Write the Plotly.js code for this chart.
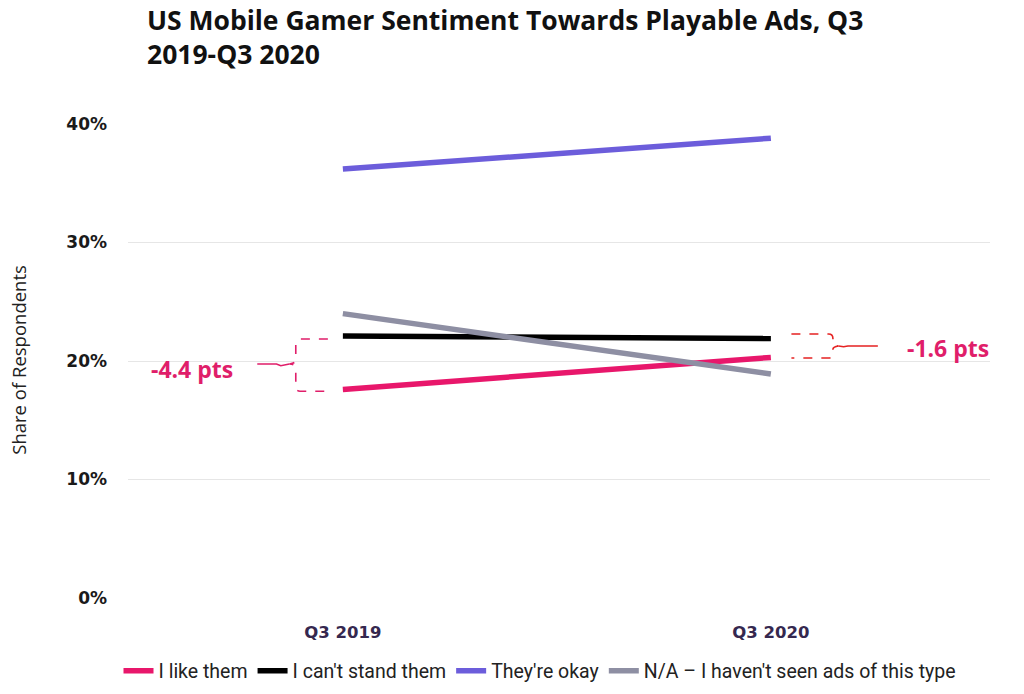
<!DOCTYPE html>
<html>
<head>
<meta charset="utf-8">
<script src="https://cdn.plot.ly/plotly-3.0.1.min.js"></script>
<style>html,body{margin:0;padding:0;background:#fff;}#chart{width:1024px;height:694px;}</style>
</head>
<body>
<div id="chart"></div>
<script>
// ---- data ----
const periods = ["Q3 2019", "Q3 2020"];
const likeThem = [17.6, 20.3];
const cantStand = [22.1, 21.9];
const theyreOkay = [36.2, 38.8];
const notSeen = [24.0, 18.9];
const seriesNames = ["I like them", "I can't stand them", "They're okay", "N/A \u2013 I haven't seen ads of this type"];
const yTicks = [0, 10, 20, 30, 40];
const changeLabels = ["-4.4 pts", "-1.6 pts"];
const chartTitle = "US Mobile Gamer Sentiment Towards Playable Ads, Q3<br>2019-Q3 2020";
const yTitle = "Share of Respondents";

const colors = ["#e8176b", "#000000", "#6c5ddb", "#8e8fa3"];
const xIdx = periods.map((_, i) => i);
const allSeries = [likeThem, cantStand, theyreOkay, notSeen];

const traces = allSeries.map((vals, k) => ({
  x: xIdx, y: vals, name: seriesNames[k], type: 'scatter', mode: 'lines',
  line: {color: colors[k], width: 5.5}, hoverinfo: 'skip'
}));

const pink = "#e01e6a", red = "#e52222";
const shapes = [
  // left bracket (2019 gap)
  {type:'path', xref:'x', yref:'y',
   path:'M -0.035,21.86 L -0.100,21.86 Q -0.110,21.86 -0.110,21.4 L -0.110,20.1 Q -0.110,19.8 -0.125,19.75 Q -0.110,19.7 -0.110,19.4 L -0.110,17.9 Q -0.110,17.45 -0.100,17.45 L -0.035,17.45',
   line:{color:pink, width:1.6, dash:'dash'}},
  {type:'path', xref:'x', yref:'y',
   path:'M -0.200,19.75 L -0.155,19.75 L -0.145,19.6 L -0.125,19.75',
   line:{color:pink, width:1.6}},
  // right bracket (2020 gap)
  {type:'path', xref:'x', yref:'y',
   path:'M 1.048,22.28 L 1.135,22.28 Q 1.145,22.28 1.145,21.9 L 1.145,21.5 Q 1.145,21.3 1.158,21.27 Q 1.145,21.2 1.145,21.0 L 1.145,20.6 Q 1.145,20.25 1.135,20.25 L 1.048,20.25',
   line:{color:red, width:1.6, dash:'dash'}},
  {type:'path', xref:'x', yref:'y',
   path:'M 1.158,21.27 L 1.170,21.2 L 1.180,21.27 L 1.250,21.27',
   line:{color:red, width:1.6}}
];

const annotations = [
  {xref:'paper', yref:'paper', x:(145 - 128) / 862, y:1.262, xanchor:'left', yanchor:'top', align:'left',
   text:chartTitle, showarrow:false,
   font:{family:'Open Sans, sans-serif', size:26.5, color:'#111', weight:700}},
  {xref:'x', yref:'y', x:-0.352, y:19.35, text:changeLabels[0], showarrow:false,
   font:{family:'Open Sans, sans-serif', size:23, color:pink, weight:700}},
  {xref:'x', yref:'y', x:1.415, y:21.1, text:changeLabels[1], showarrow:false,
   font:{family:'Open Sans, sans-serif', size:23, color:pink, weight:700}},
  {xref:'paper', yref:'paper', x:-0.128, y:0.502, xanchor:'center', yanchor:'middle',
   text:yTitle, textangle:-90, showarrow:false,
   font:{family:'Open Sans, sans-serif', size:18.5, color:'#222'}}
];

const layout = {
  width:1024, height:694,
  margin:{l:128, r:34, t:124, b:96, autoexpand:false},
  paper_bgcolor:'#fff', plot_bgcolor:'#fff',
  xaxis:{type:'linear', range:[-0.502, 1.512], tickvals:xIdx, ticktext:periods,
    showgrid:false, zeroline:false, showline:false, ticks:'', ticklabelstandoff:22,
    tickfont:{family:'DejaVu Sans, sans-serif', size:16.5, color:'#35284f', weight:700}},
  yaxis:{range:[0, 40], tickvals:yTicks, ticktext:yTicks.map(v => v + '%'),
    showgrid:true, gridcolor:'#e6e6e6', gridwidth:1, zeroline:false, showline:false,
    ticks:'', ticklabelstandoff:20,
    tickfont:{family:'DejaVu Sans, sans-serif', size:17, color:'#1a1a1a', weight:700}},
  showlegend:true,
  legend:{orientation:'h', xref:'container', yref:'container', x:540 / 1024, xanchor:'center',
    y:1 - 671 / 694, yanchor:'middle',
    font:{family:'Roboto, sans-serif', size:19.5, color:'#222'}, itemwidth:30, traceorder:'normal'},
  shapes:shapes, annotations:annotations
};

Plotly.newPlot('chart', traces, layout, {displayModeBar:false, staticPlot:true});
</script>
</body>
</html>
